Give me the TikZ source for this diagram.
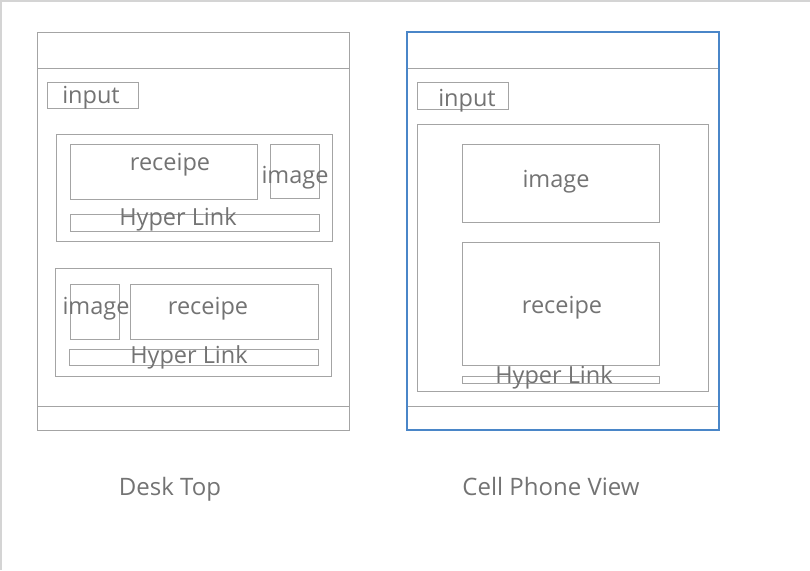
\documentclass[tikz,border=0pt]{standalone}
\usepackage{fontspec}
\setmainfont{Open Sans}
\usetikzlibrary{positioning}
\definecolor{wire}{HTML}{A4A4A4}
\definecolor{wiretext}{HTML}{737373}
\definecolor{phoneblue}{HTML}{4A86C8}
\definecolor{frame}{HTML}{D4D4D4}

\begin{document}
\begin{tikzpicture}[x=1pt,y=-1pt,
  box/.style={draw=wire, line width=1pt},
  lbl/.style={text=wiretext, anchor=base, inner sep=0pt, font=\fontsize{23.5}{27}\selectfont},
  caption/.style={text=wiretext, anchor=base, inner sep=0pt, font=\fontsize{24}{28}\selectfont}]
\useasboundingbox (0,0) rectangle (810,570);
\draw[frame, line width=1.5pt] (0,1) -- (810,1);
\draw[frame, line width=1.5pt] (1,0) -- (1,570);
% desk top
\draw[box] (37,32) rectangle (349,430);
\draw[box] (37,68) -- (349,68);
\draw[box] (37,406) -- (349,406);
\draw[box] (47,82) rectangle (138,108);
\node[lbl] (dinput) at (91,103) {input};
\draw[box] (56,134) rectangle (332,241);
\draw[box] (70,144) rectangle (257,199);
\draw[box] (270,144) rectangle (319,198);
\draw[box] (70,214) rectangle (319,231);
\node[lbl] (drec1) at (170,170) {receipe};
\node[lbl] (dimg1) at (295,183) {image};
\node[lbl] (dlink1) at (178,225) {Hyper Link};
\draw[box] (55,268) rectangle (331,376);
\draw[box] (70,284) rectangle (119,339);
\draw[box] (130,284) rectangle (318,339);
\draw[box] (69,349) rectangle (318,365);
\node[lbl] (dimg2) at (96,314) {image};
\node[lbl] (drec2) at (208,314) {receipe};
\node[lbl] (dlink2) at (189,363) {Hyper Link};
\node[caption] (desk) at (170,495) {Desk Top};
% cell phone
\draw[box] (407,68) -- (719,68);
\draw[box] (407,406) -- (719,406);
\draw[phoneblue, line width=1.3pt] (407,32) rectangle (719,430);
\draw[box] (417,82) rectangle (508,109);
\node[lbl] (pinput) at (467,106) {input};
\draw[box] (417,124) rectangle (708,391);
\draw[box] (462,144) rectangle (659,222);
\draw[box] (462,242) rectangle (659,365);
\draw[box] (462,376) rectangle (659,383);
\node[lbl] (pimg) at (556,187) {image};
\node[lbl] (prec) at (562,313) {receipe};
\node[lbl] (plink) at (554,383) {Hyper Link};
\node[caption] (phone) at (551,495) {Cell Phone View};
\end{tikzpicture}
\end{document}
